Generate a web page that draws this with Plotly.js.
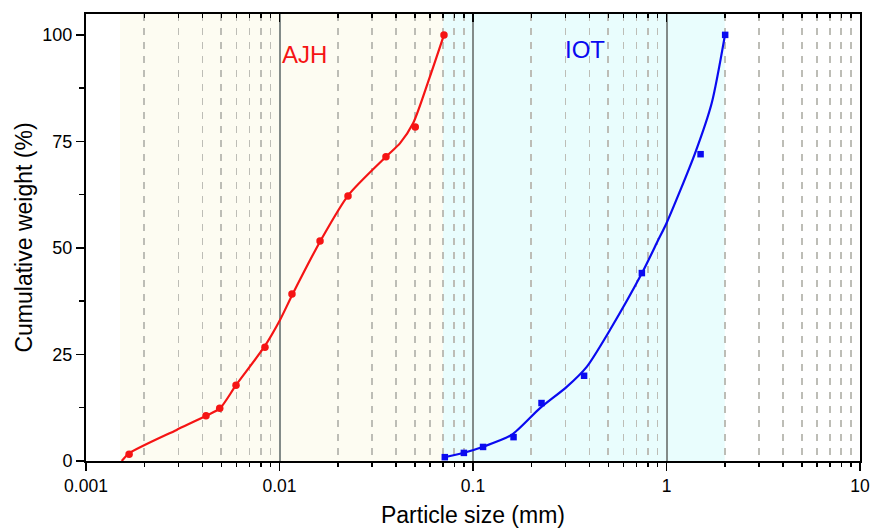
<!DOCTYPE html>
<html><head><meta charset="utf-8">
<script src="https://cdn.plot.ly/plotly-3.0.1.min.js"></script>
<style>body{margin:0}#c{width:870px;height:530px}</style>
</head><body><div id="c"></div>
<script>
// AJH measured points
const ajhSize = [0.00167, 0.00417, 0.00491, 0.00596, 0.00841, 0.0116, 0.0162, 0.0226, 0.0355, 0.0503, 0.0708];
const ajhCum  = [1.6, 10.6, 12.4, 17.8, 26.7, 39.2, 51.6, 62.2, 71.4, 78.4, 100];
// AJH fitted curve
const ajhCurveX = [0.00153, 0.00167, 0.00294, 0.00417, 0.00493, 0.00596, 0.00832, 0.01006, 0.0117, 0.0163, 0.0227, 0.0355, 0.0420, 0.0491, 0.0599, 0.0708];
const ajhCurveY = [0, 1.8, 7.3, 10.6, 12.4, 17.8, 26.7, 33.1, 39.2, 51.7, 62.4, 71.4, 74.6, 79.3, 90.2, 100];
// IOT measured points
const iotSize = [0.0715, 0.0897, 0.1127, 0.162, 0.226, 0.375, 0.746, 1.50, 2.01];
const iotCum  = [0.9, 1.9, 3.3, 5.6, 13.6, 20.0, 44.1, 72.0, 100];
// IOT fitted curve
const iotCurveX = [0.0711, 0.0898, 0.113, 0.158, 0.222, 0.305, 0.387, 0.511, 0.747, 0.907, 1.0, 1.404, 1.713, 2.006];
const iotCurveY = [0.87, 1.95, 3.36, 6.1, 12.4, 17.4, 22.1, 30.8, 44.1, 51.9, 55.8, 72.2, 84.0, 100];
// shaded ranges
const ajhRange = [0.0015, 0.07];
const iotRange = [0.07, 2];
const xTickVals = [0.001, 0.01, 0.1, 1, 10];
const xTickText = ['0.001', '0.01', '0.1', '1', '10'];
const yTickVals = [0, 25, 50, 75, 100];

const red = 'rgb(245,20,20)', blue = 'rgb(10,10,240)';
const traces = [
  {x:ajhCurveX, y:ajhCurveY, mode:'lines', line:{color:red,width:2.2,shape:'spline',smoothing:0.7}},
  {x:ajhSize, y:ajhCum, mode:'markers', marker:{color:red,size:7.5,symbol:'circle'}},
  {x:iotCurveX, y:iotCurveY, mode:'lines', line:{color:blue,width:2.2,shape:'spline',smoothing:0.7}},
  {x:iotSize, y:iotCum, mode:'markers', marker:{color:blue,size:6.5,symbol:'square'}},
  {x:iotSize, y:iotCum, xaxis:'x2', mode:'markers', marker:{opacity:0}, hoverinfo:'skip'}
];
const layout = {
  width:870, height:530, showlegend:false,
  margin:{l:86, r:10, t:14, b:69},
  paper_bgcolor:'white', plot_bgcolor:'white',
  font:{family:'Liberation Sans, Arial, sans-serif', color:'#000'},
  xaxis:{type:'log', range:[-3,1], tickvals:xTickVals, ticktext:xTickText,
    showline:true, linecolor:'#000', linewidth:2, mirror:true,
    ticks:'outside', ticklen:8, tickwidth:1.5, tickcolor:'#000',
    showgrid:true, gridcolor:'#838b89', gridwidth:2,
    minor:{dtick:'D1', ticks:'outside', ticklen:4, tickwidth:1.5, tickcolor:'#000', showgrid:true, gridcolor:'#bdbdb6', griddash:'7px,7px', gridwidth:1.6},
    tickfont:{size:17.5}, zeroline:false,
    title:{text:'Particle size (mm)', font:{size:23}, standoff:12}},
  xaxis2:{type:'log', range:[-3,1], overlaying:'x', side:'top', matches:'x', showticklabels:false,
    tickvals:xTickVals, ticks:'inside', ticklen:8, tickwidth:1.5, tickcolor:'#000', showgrid:false, showline:false, zeroline:false,
    minor:{dtick:'D1', ticks:'inside', ticklen:4, tickwidth:1.5, tickcolor:'#000', showgrid:false}},
  yaxis:{range:[0,104.9], tickvals:yTickVals, showline:true, linecolor:'#000', linewidth:2, mirror:true,
    ticks:'outside', ticklen:8, tickwidth:1.5, tickcolor:'#000', showgrid:false, zeroline:false,
    minor:{ticks:'outside', ticklen:5, dtick:12.5, tick0:0, tickwidth:1.5, tickcolor:'#000'},
    tickfont:{size:18}, title:{text:'Cumulative weight (%)', font:{size:23}, standoff:3}},
  shapes:[
    {type:'rect', xref:'x', yref:'paper', x0:ajhRange[0], x1:ajhRange[1], y0:0, y1:1, fillcolor:'#fdfcf2', line:{width:0}, layer:'below'},
    {type:'rect', xref:'x', yref:'paper', x0:iotRange[0], x1:iotRange[1], y0:0, y1:1, fillcolor:'#e9fdfd', line:{width:0}, layer:'below'}
  ],
  annotations:[
    {x:Math.log10(0.0134), y:95.3, xref:'x', yref:'y', text:'AJH', showarrow:false, font:{size:24,color:red}},
    {x:Math.log10(0.38), y:96.5, xref:'x', yref:'y', text:'IOT', showarrow:false, font:{size:24,color:blue}}
  ]
};
Plotly.newPlot('c', traces, layout, {displayModeBar:false, staticPlot:true});
</script></body></html>
